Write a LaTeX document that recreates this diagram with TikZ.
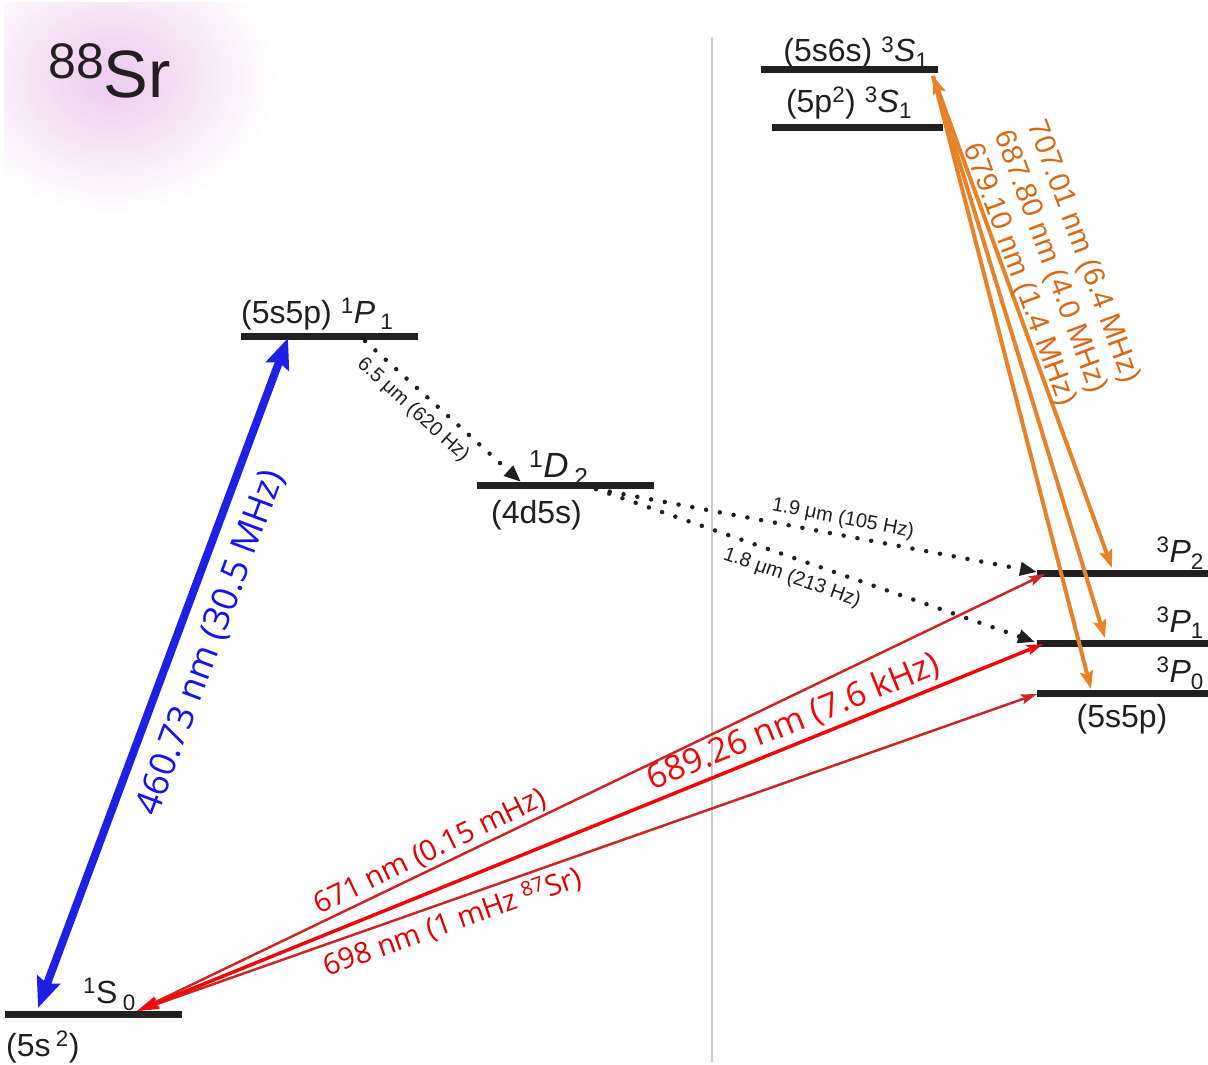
\documentclass[tikz,border=0pt]{standalone}
\usepackage{fontspec}
\setmainfont{Liberation Sans}
\newfontfamily\opensans{Open Sans}
\usetikzlibrary{arrows.meta}

\definecolor{ink}{RGB}{35,31,32}
\definecolor{bluec}{RGB}{32,32,228}
\definecolor{bluetext}{RGB}{20,20,240}
\definecolor{redthin}{RGB}{205,38,38}
\definecolor{redthick}{RGB}{240,8,8}
\definecolor{redtext}{RGB}{225,0,0}
\definecolor{orangec}{RGB}{230,130,42}
\definecolor{orangetext}{RGB}{215,105,25}
\definecolor{glowpink}{RGB}{240,208,240}
\definecolor{divider}{RGB}{205,205,205}

% radial glow: the path covers the central 50bp square, so the fade ends at 25bp
\pgfdeclareradialshading{glowshade}{\pgfpoint{0bp}{0bp}}{%
  color(0bp)=(glowpink); color(3bp)=(glowpink); color(25bp)=(white); color(50bp)=(white)}

\begin{document}
\begin{tikzpicture}[x=1pt,y=1pt,
  level/.style={draw=ink, line width=7pt},
  lbl/.style={inner sep=0pt, text=ink, font=\fontsize{32}{38}\selectfont},
  smalllbl/.style={inner sep=0pt, text=ink, font=\fontsize{20}{24}\selectfont},
  orangelbl/.style={inner sep=0pt, text=orangetext, font=\fontsize{29.5}{33}\selectfont, rotate=-69.7},
  redlbl/.style={inner sep=0pt, text=redtext, font=\opensans\fontsize{29}{33}\selectfont},
  dotline/.style={draw=ink, line width=4.5pt, line cap=round, dash pattern=on 0pt off 14pt,
    -{Triangle[length=17pt,width=13pt]}},
  redhead/.tip={Stealth[length=16pt,width=10pt,inset=3pt]},
  redfoot/.tip={Stealth[length=22pt,width=11pt,inset=4pt]},
  orangehead/.tip={Stealth[length=18pt,width=13pt,inset=3pt]},
  bluehead/.tip={Stealth[length=30pt,width=24pt,inset=4pt]}
]
\useasboundingbox (0,0) rectangle (1208,-1065);

% soft glow behind the element symbol
\begin{scope}
  \clip (4,-3) rectangle (320,-260);
  \shade[shading=glowshade] (112,-78) ellipse [x radius=165, y radius=135];
\end{scope}
\node[inner sep=0pt, anchor=base west, text=ink] (elem) at (48,-98)
  {\fontsize{67}{70}\selectfont\raisebox{19pt}{\fontsize{50}{50}\selectfont 88}Sr};

% divider between singlet and triplet sides
\draw[divider, line width=1.5pt] (712,-37) coordinate (divtop) -- (712,-1062) coordinate (divbot);

% energy levels
\draw[level] (5,-1014) coordinate (S0a) -- (182,-1014) coordinate (S0b);
\draw[level] (241,-336) coordinate (P1a) -- (418,-336) coordinate (P1b);
\draw[level] (477,-485) coordinate (D2a) -- (654,-485) coordinate (D2b);
\draw[level] (761,-69.5) coordinate (T6a) -- (938,-69.5) coordinate (T6b);
\draw[level] (772,-127) coordinate (T5a) -- (943,-127) coordinate (T5b);
\draw[level] (1037,-573) coordinate (P2a) -- (1208,-573) coordinate (P2b);
\draw[level] (1037,-643) coordinate (Q1a) -- (1208,-643) coordinate (Q1b);
\draw[level] (1037,-693.5) coordinate (Q0a) -- (1208,-693.5) coordinate (Q0b);

% connector end points
\coordinate (bS) at (38,-1008);
\coordinate (bP) at (288,-338);
\coordinate (rS) at (137,-1011);
\coordinate (r2) at (1045,-574);
\coordinate (r1) at (1043,-644);
\coordinate (r0) at (1037,-694);
\coordinate (oT) at (933,-76);
\coordinate (o2) at (1112,-568);
\coordinate (o1) at (1105,-638);
\coordinate (o0) at (1091,-689);
\coordinate (dP) at (365,-341);
\coordinate (dD) at (521,-482);
\coordinate (dDs) at (596,-489);
\coordinate (d2) at (1037,-572);
\coordinate (d1) at (1035,-642);

% dotted decay channels
\draw[dotline] (dP) -- (dD);
\draw[dotline] (dDs) -- (d2);
\draw[dotline] (dDs) -- (d1);

% intercombination lines
\draw[redthin, line width=2.5pt, {redfoot}-{redhead}] (rS) -- (r2);
\draw[redthin, line width=2.5pt, {redfoot}-{redhead}] (rS) -- (r0);
\draw[redthick, line width=3.5pt, {redfoot}-{redhead}] (rS) -- (r1);

% repumping lines
\draw[orangec, line width=4pt, {orangehead}-{orangehead}] (oT) -- (o2);
\draw[orangec, line width=4pt, -{orangehead}] (oT) -- (o1);
\draw[orangec, line width=4pt, -{orangehead}] (oT) -- (o0);

% blue cooling transition
\draw[bluec, line width=8pt, {bluehead}-{bluehead}] (bS) -- (bP);

% level labels
\node[lbl, anchor=base] (t6s) at (856,-62) {(5s6s) \textsuperscript{3}\textit{S}\textsubscript{1}};
\node[lbl, anchor=base] (t5p) at (849,-112) {(5p\textsuperscript{2}) \textsuperscript{3}\textit{S}\textsubscript{1}};
\node[lbl, anchor=base west] (tP1) at (241,-323) {(5s5p) \textsuperscript{1}\textit{P}\,\textsubscript{1}};
\node[lbl, anchor=base west, font=\fontsize{35}{40}\selectfont] (tD2) at (529,-477) {\textsuperscript{1}\textit{D}\,\textsubscript{2}};
\node[lbl, anchor=base west] (tD2c) at (491,-523) {(4d5s)};
\node[lbl, anchor=base east] (tP2) at (1204,-562) {\textsuperscript{3}\textit{P}\textsubscript{2}};
\node[lbl, anchor=base east] (tQ1) at (1204,-632) {\textsuperscript{3}\textit{P}\textsubscript{1}};
\node[lbl, anchor=base east] (tQ0) at (1204,-682) {\textsuperscript{3}\textit{P}\textsubscript{0}};
\node[lbl, anchor=base] (tQc) at (1122,-727) {(5s5p)};
\node[lbl, anchor=base west] (tS0) at (83,-1003) {\textsuperscript{1}S\,\textsubscript{0}};
\node[lbl, anchor=base west] (tS0c) at (6,-1056) {(5s\,\textsuperscript{2})};

% transition labels
\node[inner sep=0pt, text=bluetext, font=\opensans\fontsize{36}{40}\selectfont, rotate=69.6]
  (lblue) at (211,-643) {460.73 nm (30.5 MHz)};
\node[redlbl, rotate=25.75] (l671) at (430,-852) {671 nm (0.15 mHz)};
\node[redlbl, text=redthick, font=\opensans\fontsize{34}{38}\selectfont, rotate=22.05]
  (l689) at (793,-722) {689.26 nm (7.6 kHz)};
\node[redlbl, rotate=19.4] (l698) at (452,-922) {698 nm (1 mHz \textsuperscript{87}Sr)};
\node[orangelbl] (l707) at (1083,-252) {707.01 nm (6.4 MHz)};
\node[orangelbl] (l688) at (1050,-262) {687.80 nm (4.0 MHz)};
\node[orangelbl] (l679) at (1019,-275) {679.10 nm (1.4 MHz)};
\node[smalllbl, rotate=-42.3] (l65) at (413,-410) {6.5 μm (620 Hz)};
\node[smalllbl, rotate=-10.8] (l19) at (843,-519) {1.9 μm (105 Hz)};
\node[smalllbl, rotate=-19.3] (l18) at (792,-578) {1.8 μm (213 Hz)};
\end{tikzpicture}
\end{document}
